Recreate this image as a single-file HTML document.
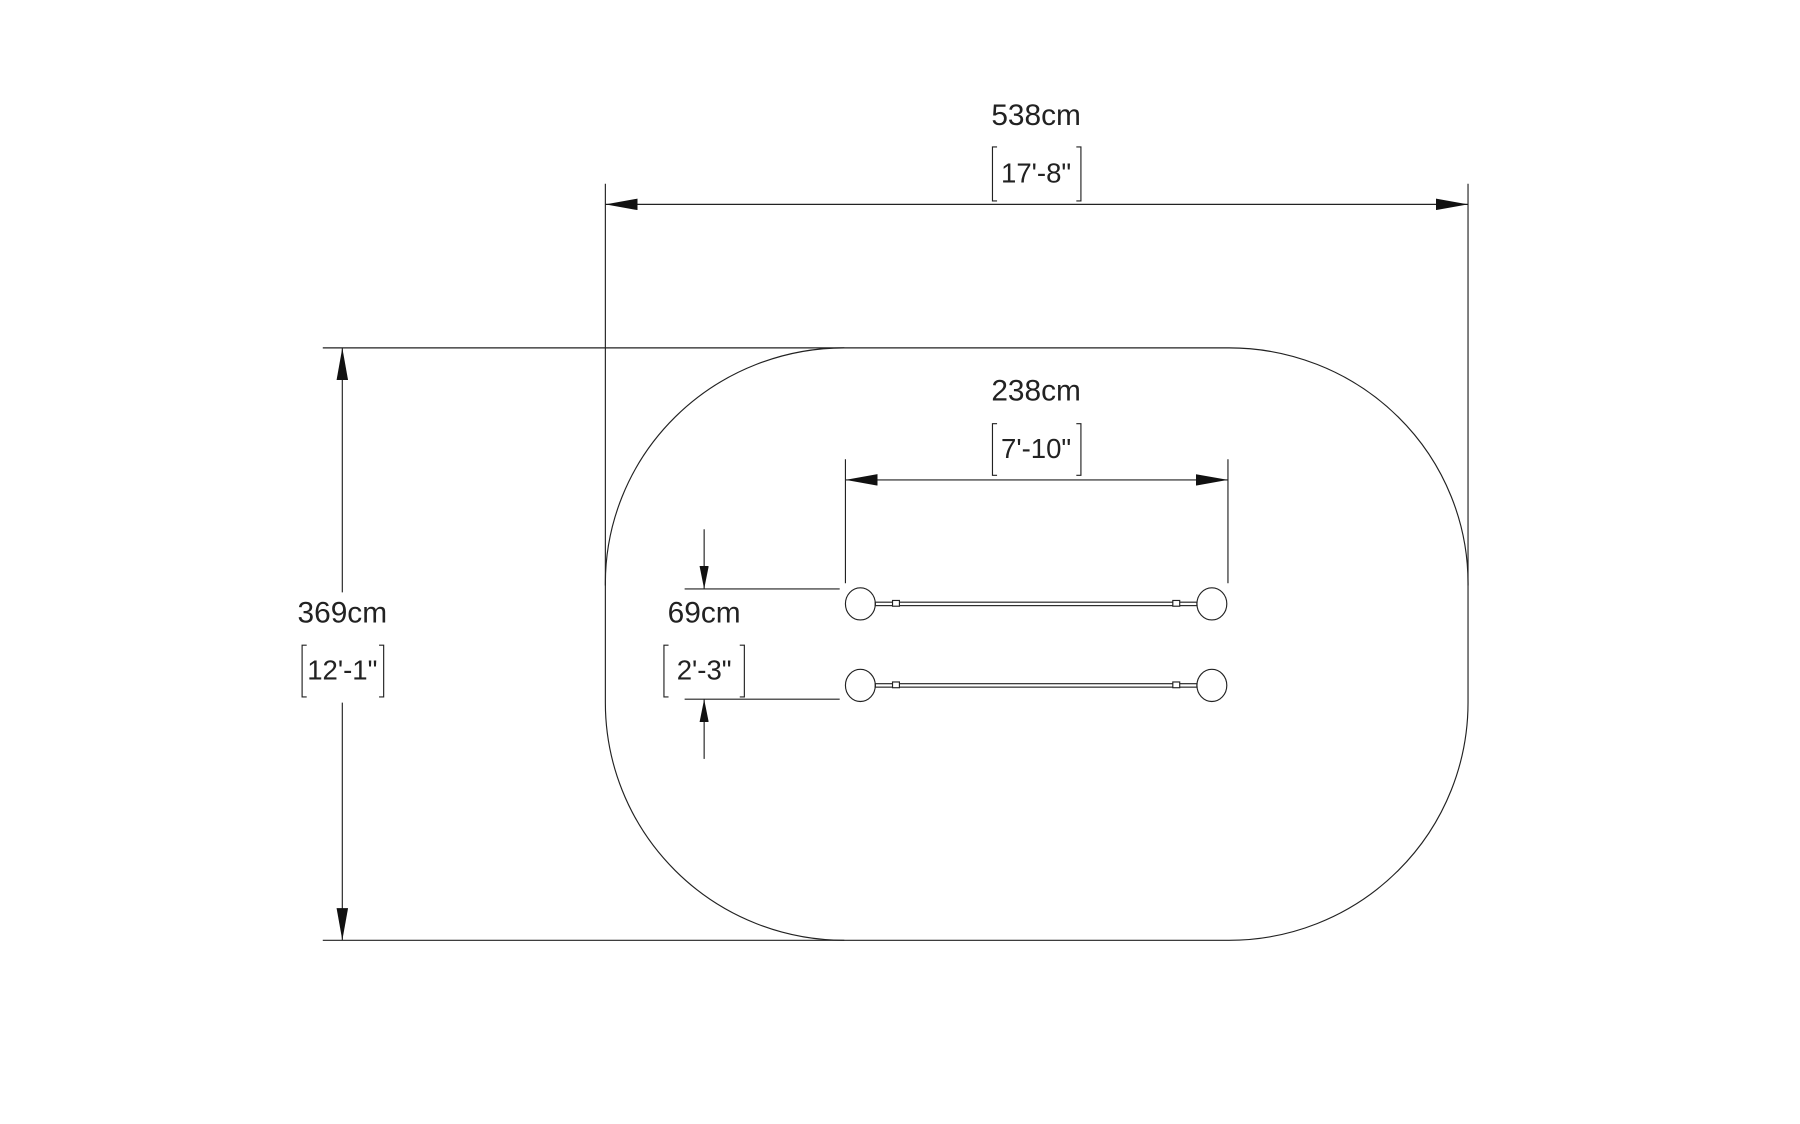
<!DOCTYPE html>
<html><head><meta charset="utf-8"><style>
html,body{margin:0;padding:0;background:#fff;}
svg{display:block;}
text{font-family:"Liberation Sans",sans-serif;fill:#222;}
</style></head><body>
<svg width="1800" height="1124" viewBox="0 0 1567 979" preserveAspectRatio="none" xmlns="http://www.w3.org/2000/svg">
<defs>
<marker id="a" viewBox="0 0 28 10" refX="28" refY="5" markerWidth="28" markerHeight="10" markerUnits="userSpaceOnUse" orient="auto-start-reverse"><path d="M0,0 L28,5 L0,10 z" fill="#111"/></marker>
<marker id="b" viewBox="0 0 20 8" refX="20" refY="4" markerWidth="20" markerHeight="8" markerUnits="userSpaceOnUse" orient="auto-start-reverse"><path d="M0,0 L20,4 L0,8 z" fill="#111"/></marker>
</defs>
<g stroke="#222" stroke-width="1" fill="none">
<path d="M735,303 L1070,303 A208,205 0 0 1 1278,508 L1278,612 A208,207 0 0 1 1070,819 L735,819 A208,207 0 0 1 527,612 L527,508 A208,205 0 0 1 735,303 Z"/>
<line x1="527" y1="160" x2="527" y2="510"/>
<line x1="1278" y1="160" x2="1278" y2="510"/>
<line x1="527" y1="178" x2="1278" y2="178" marker-start="url(#a)" marker-end="url(#a)"/>
<path d="M868,128 L864,128 L864,175 L868,175 M937,128 L941,128 L941,175 L937,175"/>
<line x1="281" y1="303" x2="735" y2="303"/>
<line x1="281" y1="819" x2="735" y2="819"/>
<line x1="298" y1="303" x2="298" y2="516" marker-start="url(#a)"/>
<line x1="298" y1="612" x2="298" y2="819" marker-end="url(#a)"/>
<path d="M267,562 L263,562 L263,607 L267,607 M330,562 L334,562 L334,607 L330,607"/>
<line x1="736" y1="400" x2="736" y2="508"/>
<line x1="1069" y1="400" x2="1069" y2="508"/>
<line x1="736" y1="418" x2="1069" y2="418" marker-start="url(#a)" marker-end="url(#a)"/>
<path d="M868,369 L864,369 L864,414 L868,414 M937,369 L941,369 L941,414 L937,414"/>
<line x1="596" y1="513" x2="731" y2="513"/>
<line x1="596" y1="609" x2="731" y2="609"/>
<line x1="613" y1="461" x2="613" y2="513" marker-end="url(#b)"/>
<line x1="613" y1="661" x2="613" y2="609" marker-end="url(#b)"/>
<path d="M582,562 L578,562 L578,607 L582,607 M644,562 L648,562 L648,607 L644,607"/>
<ellipse cx="749" cy="526" rx="13" ry="14"/>
<ellipse cx="1055" cy="526" rx="13" ry="14"/>
<rect x="762" y="524.5" width="280" height="3"/>
<rect x="777" y="523" width="6" height="5" fill="#fff"/>
<rect x="1021" y="523" width="6" height="5" fill="#fff"/>
<ellipse cx="749" cy="597" rx="13" ry="14"/>
<ellipse cx="1055" cy="597" rx="13" ry="14"/>
<rect x="762" y="595.5" width="280" height="3"/>
<rect x="777" y="594" width="6" height="5" fill="#fff"/>
<rect x="1021" y="594" width="6" height="5" fill="#fff"/>
</g>
<g font-size="26" text-anchor="middle">
<text x="902" y="109">538cm</text>
<text x="902" y="349">238cm</text>
<text x="298" y="542">369cm</text>
<text x="613" y="542">69cm</text>
</g>
<g font-size="24" text-anchor="middle">
<text x="902" y="159">17'-8"</text>
<text x="902" y="399">7'-10"</text>
<text x="298" y="592">12'-1"</text>
<text x="613" y="592">2'-3"</text>
</g>
</svg>
</body></html>
